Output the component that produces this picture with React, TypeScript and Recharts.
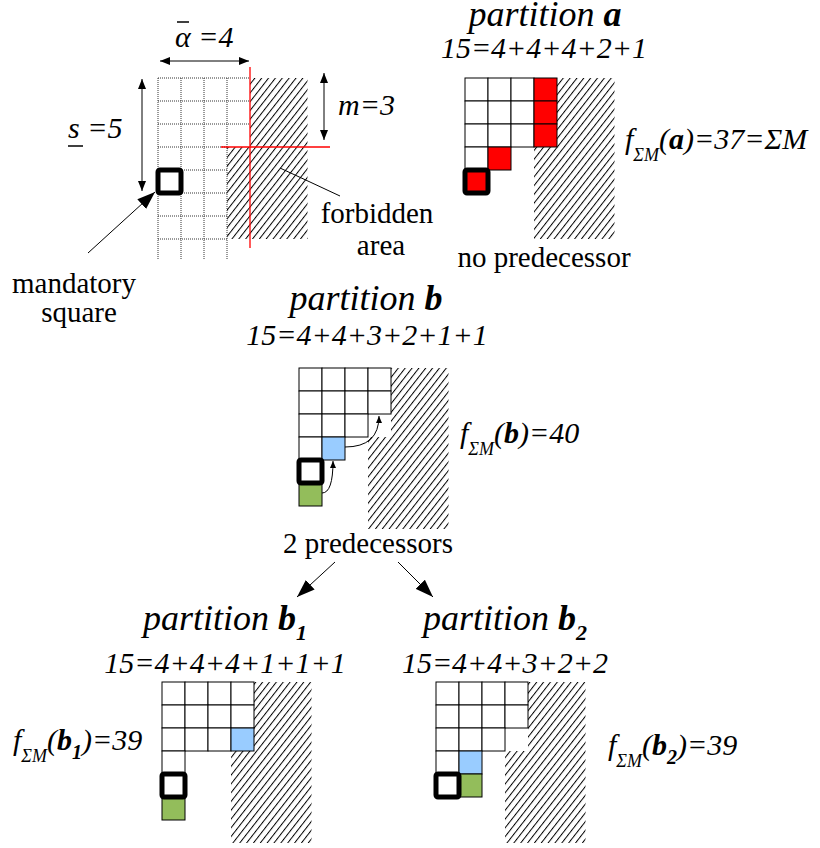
import React from "react";
import { ComposedChart, XAxis, YAxis, Scatter, ReferenceArea, ReferenceLine, ReferenceDot } from "recharts";

const WIDTH = 820;
const HEIGHT = 848;
const CELL = 23;
const SERIF = "Liberation Serif";

// example parameters
const total = 15;
const alphaBar = 4;
const sBar = 5;
const mValue = 3;

// partitions: one part per row of the diagram
const partitionA = [4, 4, 4, 2, 1];
const partitionB = [4, 4, 3, 2, 1, 1];
const partitionB1 = [4, 4, 4, 1, 1, 1];
const partitionB2 = [4, 4, 3, 2, 2];
const partitions = [partitionA, partitionB, partitionB1, partitionB2];

const names = ["a", "b", "b", "b"];
const subscripts = ["", "", "1", "2"];
const scoreValues = [37, 40, 39, 39];
const scoreSuffix = ["=ΣM", "", "", ""];
const notes = ["no predecessor", "2 predecessors"];

// highlighted cells [row, col]
const redCells = [[0, 3], [1, 3], [2, 3], [3, 1], [4, 0]];
const blueCells = [null, [3, 1], [2, 3], [3, 1]];
const greenCells = [null, [5, 0], [5, 0], [4, 1]];

// layout (pixels)
const TEMPLATE_ORIGIN = [158, 78];
const ORIGINS = [[465, 78], [299, 368], [162, 682], [436, 682]];
const TITLE_POS = [[545, 26], [366, 310], [225, 630], [505, 630]];
const SUM_POS = [[544, 58], [367, 345], [225, 673], [505, 673]];
const SCORE_POS = [[625, 149], [460, 443], [13, 750], [608, 755]];
const NOTE_POS = [[544, 267], [368, 553]];

const RED = "#ff0000";
const BLUE = "#99ccff";
const GREEN = "#93bd5b";

const same = (a: number[] | null, r: number, c: number) => !!a && a[0] === r && a[1] === c;

const fillFor = (d: number, r: number, c: number) => {
  if (d === 0 && redCells.some((p) => same(p, r, c))) return RED;
  if (same(blueCells[d], r, c)) return BLUE;
  if (same(greenCells[d], r, c)) return GREEN;
  return "#ffffff";
};

const cellData = partitions.flatMap((parts, d) =>
  parts.flatMap((len, r) =>
    Array.from({ length: len }, (_, c) => ({
      x: ORIGINS[d][0] + (c + 0.5) * CELL,
      y: ORIGINS[d][1] + (r + 0.5) * CELL,
      fill: fillFor(d, r, c),
    }))
  )
);

const allOrigins = [TEMPLATE_ORIGIN, ...ORIGINS];

const mandatoryData = allOrigins.map(([ox, oy]) => ({ x: ox + 0.5 * CELL, y: oy + (sBar - 0.5) * CELL }));

const hatchRects = allOrigins.flatMap(([ox, oy]) => [
  { x1: ox + alphaBar * CELL, x2: ox + (alphaBar + 2.5) * CELL, y1: oy, y2: oy + mValue * CELL },
  { x1: ox + (alphaBar - 1) * CELL, x2: ox + (alphaBar + 2.5) * CELL, y1: oy + mValue * CELL, y2: oy + 7 * CELL },
]);

// dotted grid of the template
const [tx, ty] = TEMPLATE_ORIGIN;
const gridLines = [
  ...Array.from({ length: alphaBar }, (_, k) => [[tx + k * CELL, ty], [tx + k * CELL, ty + 7.9 * CELL]]),
  ...Array.from({ length: 8 }, (_, r) => [[tx, ty + r * CELL], [tx + (r < mValue ? alphaBar : alphaBar - 1) * CELL, ty + r * CELL]]),
];

type Arrow = { from: number[]; to: number[]; start?: string; end?: string; curve?: boolean };
const ARROWS: Arrow[] = [
  { from: [160, 61], to: [249, 61], start: "hs", end: "hs" },
  { from: [142, 79], to: [142, 191], start: "hs", end: "hs" },
  { from: [324, 73], to: [324, 140], start: "hs", end: "hs" },
  { from: [280, 168], to: [340, 196] },
  { from: [88, 253], to: [155, 192], end: "hb" },
  { from: [335, 562], to: [297, 597], end: "hb" },
  { from: [398, 562], to: [433, 597], end: "hb" },
  { from: [345, 447], to: [379, 416], end: "hc", curve: true },
  { from: [322, 493], to: [333, 461], end: "hc", curve: true },
];

const arrowShape = (a: Arrow) => (p: any) => {
  const d = a.curve
    ? `M${p.x1},${p.y1} Q${p.x2},${p.y1} ${p.x2},${p.y2}`
    : `M${p.x1},${p.y1} L${p.x2},${p.y2}`;
  return (
    <path
      d={d}
      fill="none"
      stroke="#000"
      strokeWidth={1}
      markerStart={a.start ? `url(#${a.start})` : undefined}
      markerEnd={a.end ? `url(#${a.end})` : undefined}
    />
  );
};

const textDot = (key: string, x: number, y: number, render: (cx: number, cy: number) => React.ReactElement) => (
  <ReferenceDot key={key} x={x} y={y} r={0} shape={(p: any) => render(p.cx, p.cy)} />
);

const italic = (size: number) => ({
  fontFamily: SERIF,
  fontStyle: "italic",
  fontSize: size,
  style: { fontFamily: SERIF, fontStyle: "italic" as const, fontSize: size },
  fill: "#000",
});
const roman = { fontFamily: SERIF, fontSize: 29, style: { fontFamily: SERIF, fontSize: 29 }, fill: "#000" };

export default function App() {
  return (
    <div style={{ position: "absolute", left: 0, top: 0, width: WIDTH, height: HEIGHT, background: "#fff", fontFamily: SERIF }}>
      <ComposedChart width={WIDTH} height={HEIGHT} margin={{ top: 0, right: 0, bottom: 0, left: 0 }} style={{ fontFamily: SERIF }}>
        <defs>
          <pattern id="hatch" width="5.4" height="5.4" patternUnits="userSpaceOnUse" patternTransform="rotate(-52)">
            <rect x="0" y="0" width="5.4" height="1" fill="#000" />
          </pattern>
          <marker id="hs" viewBox="0 0 10 8" refX="10" refY="4" markerWidth="10" markerHeight="8" markerUnits="userSpaceOnUse" orient="auto-start-reverse">
            <path d="M0,0 L10,4 L0,8 z" fill="#000" />
          </marker>
          <marker id="hb" viewBox="0 0 18 13" refX="18" refY="6.5" markerWidth="18" markerHeight="13" markerUnits="userSpaceOnUse" orient="auto-start-reverse">
            <path d="M0,0 L18,6.5 L0,13 z" fill="#000" />
          </marker>
          <marker id="hc" viewBox="0 0 7 6" refX="7" refY="3" markerWidth="7" markerHeight="6" markerUnits="userSpaceOnUse" orient="auto-start-reverse">
            <path d="M0,0 L7,3 L0,6 z" fill="#000" />
          </marker>
        </defs>
        <XAxis type="number" dataKey="x" domain={[0, WIDTH]} allowDataOverflow hide />
        <YAxis type="number" dataKey="y" domain={[0, HEIGHT]} allowDataOverflow reversed hide />

        {hatchRects.map((h, i) => (
          <ReferenceArea key={`h${i}`} x1={h.x1} x2={h.x2} y1={h.y1} y2={h.y2} fill="url(#hatch)" fillOpacity={1} stroke="none" />
        ))}

        {gridLines.map((g, i) => (
          <ReferenceLine
            key={`g${i}`}
            segment={[{ x: g[0][0], y: g[0][1] }, { x: g[1][0], y: g[1][1] }]}
            stroke="#333"
            strokeWidth={1}
            strokeDasharray="1 1"
          />
        ))}

        <Scatter
          data={cellData}
          isAnimationActive={false}
          shape={(p: any) => (
            <rect x={p.cx - CELL / 2} y={p.cy - CELL / 2} width={CELL} height={CELL} fill={p.payload.fill} stroke="#000" strokeWidth={1} />
          )}
        />
        <Scatter
          data={mandatoryData}
          isAnimationActive={false}
          shape={(p: any) => (
            <rect x={p.cx - CELL / 2} y={p.cy - CELL / 2} width={CELL} height={CELL} rx={2} fill="none" stroke="#000" strokeWidth={5} />
          )}
        />

        <ReferenceLine segment={[{ x: tx + alphaBar * CELL, y: 67 }, { x: tx + alphaBar * CELL, y: 248 }]} stroke={RED} strokeWidth={1.3} />
        <ReferenceLine segment={[{ x: 221, y: ty + mValue * CELL }, { x: 330, y: ty + mValue * CELL }]} stroke={RED} strokeWidth={1.3} />

        {ARROWS.map((a, i) => (
          <ReferenceLine key={`a${i}`} segment={[{ x: a.from[0], y: a.from[1] }, { x: a.to[0], y: a.to[1] }]} shape={arrowShape(a)} />
        ))}

        {/* template labels */}
        {textDot("alpha", 175, 47, (cx, cy) => (
          <g>
            <line x1={cx + 2} x2={cx + 14} y1={cy - 25} y2={cy - 25} stroke="#000" strokeWidth={1.5} />
            <text x={cx} y={cy} {...italic(30)}>α ={alphaBar}</text>
          </g>
        ))}
        {textDot("s", 68, 138, (cx, cy) => (
          <g>
            <line x1={cx} x2={cx + 15} y1={cy + 8} y2={cy + 8} stroke="#000" strokeWidth={1.5} />
            <text x={cx} y={cy} {...italic(30)}>s ={sBar}</text>
          </g>
        ))}
        {textDot("m", 338, 115, (cx, cy) => (
          <text x={cx} y={cy} {...italic(30)}>m={mValue}</text>
        ))}
        {textDot("forb", 377, 223, (cx, cy) => (
          <text x={cx} y={cy} {...roman} textAnchor="middle">forbidden</text>
        ))}
        {textDot("area", 381, 255, (cx, cy) => (
          <text x={cx} y={cy} {...roman} textAnchor="middle">area</text>
        ))}
        {textDot("mand", 74, 293, (cx, cy) => (
          <text x={cx} y={cy} {...roman} textAnchor="middle">mandatory</text>
        ))}
        {textDot("sq", 79, 322, (cx, cy) => (
          <text x={cx} y={cy} {...roman} textAnchor="middle">square</text>
        ))}

        {notes.map((n, i) =>
          textDot(`n${i}`, NOTE_POS[i][0], NOTE_POS[i][1], (cx, cy) => (
            <text x={cx} y={cy} {...roman} textAnchor="middle">{n}</text>
          ))
        )}

        {partitions.map((parts, d) =>
          textDot(`t${d}`, TITLE_POS[d][0], TITLE_POS[d][1], (cx, cy) => (
            <text x={cx} y={cy} {...italic(36)} textAnchor="middle">
              <tspan>partition </tspan>
              <tspan fontWeight="bold">{names[d]}</tspan>
              {subscripts[d] ? (
                <tspan fontWeight="bold" fontSize={22} style={{ fontSize: 22 }} dy={10}>{subscripts[d]}</tspan>
              ) : null}
            </text>
          ))
        )}

        {partitions.map((parts, d) =>
          textDot(`s${d}`, SUM_POS[d][0], SUM_POS[d][1], (cx, cy) => (
            <text x={cx} y={cy} {...italic(30)} textAnchor="middle">
              {`${total}=${parts.join("+")}`}
            </text>
          ))
        )}

        {partitions.map((parts, d) =>
          textDot(`f${d}`, SCORE_POS[d][0], SCORE_POS[d][1], (cx, cy) => (
            <text x={cx} y={cy} {...italic(30)}>
              <tspan>f</tspan>
              <tspan fontSize={18} style={{ fontSize: 18 }} dy={12}>ΣM</tspan>
              <tspan dy={-12}>(</tspan>
              <tspan fontWeight="bold">{names[d]}</tspan>
              {subscripts[d] ? (
                <tspan fontWeight="bold" fontSize={20} style={{ fontSize: 20 }} dy={9}>{subscripts[d]}</tspan>
              ) : null}
              <tspan dy={subscripts[d] ? -9 : 0}>{`)=${scoreValues[d]}${scoreSuffix[d]}`}</tspan>
            </text>
          ))
        )}
      </ComposedChart>
    </div>
  );
}
